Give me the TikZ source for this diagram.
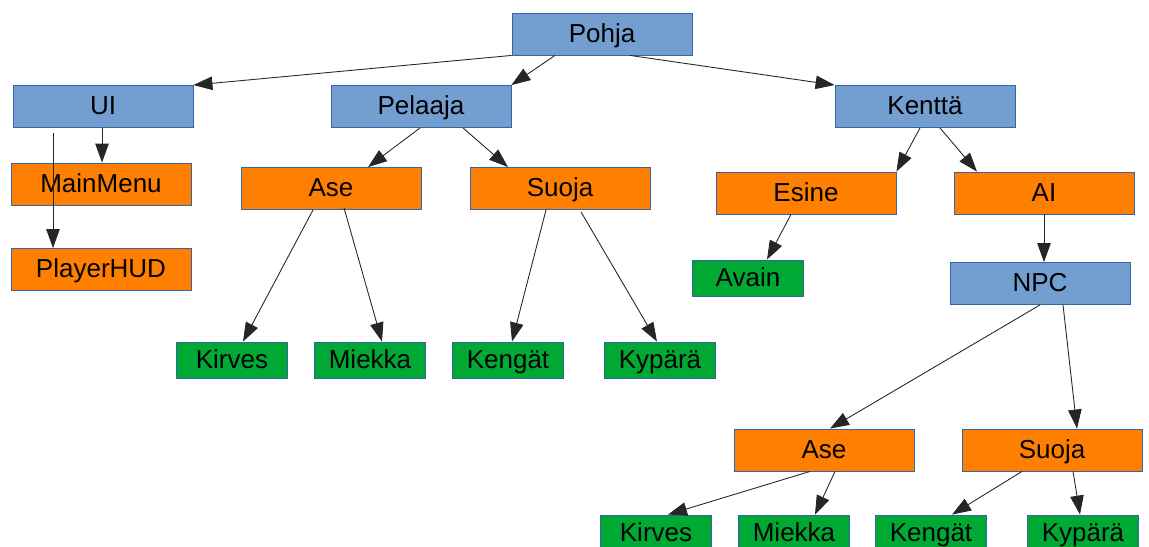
\documentclass[tikz,border=0pt]{standalone}
\usepackage{fontspec}
\setmainfont{Liberation Sans}
\usetikzlibrary{arrows.meta,calc}

\definecolor{boxblue}{HTML}{729FCF}
\definecolor{boxorange}{HTML}{FF8000}
\definecolor{boxgreen}{HTML}{00A933}
\definecolor{boxline}{HTML}{3465A4}

\begin{document}
\begin{tikzpicture}[x=0.02cm, y=-0.02cm]
			
			% ---------- Helper styles ----------
			\tikzset{
				box/.style={draw=boxline, line width=0.5pt, inner sep=0pt, minimum width=3.6cm, minimum height=0.84cm, text height=1.12em, text depth=0.2em, font=\fontsize{14.8}{17}\selectfont},
				bluebox/.style={box, fill=boxblue},
				orbox/.style={box, fill=boxorange},
				grbox/.style={box, fill=boxgreen, minimum width=2.22cm, minimum height=0.72cm},
				arr/.style={-{Triangle[length=0.38cm, width=0.27cm]}, line width=0.5pt, draw=black!85}
			}
			
			\useasboundingbox (0,0) rectangle (1149,547);
			\clip (0,0) rectangle (1149,547);
			
			% ---------- Top levels (blue) ----------
			\node[bluebox] (pohja) at (602,34) {Pohja};
			\node[bluebox] (ui) at (103,106.5) {UI};
			\node[bluebox] (pelaaja) at (421,106.5) {Pelaaja};
			\node[bluebox] (kentta) at (925,106.5) {Kenttä};
			\node[bluebox] (npc) at (1040,283.5) {NPC};
			
			% ---------- Middle levels (orange) ----------
			\node[orbox] (mainmenu) at (101,184) {MainMenu};
			\node[orbox] (playerhud) at (101,269.5) {PlayerHUD};
			\node[orbox] (ase) at (331,188.5) {Ase};
			\node[orbox] (suoja) at (560,188.5) {Suoja};
			\node[orbox] (esine) at (806,193) {Esine};
			\node[orbox] (ai) at (1044,193) {AI};
			\node[orbox] (ase2) at (824,450) {Ase};
			\node[orbox] (suoja2) at (1052,450) {Suoja};
			
			% ---------- Leaves (green) ----------
			\node[grbox] (avain) at (748,278) {Avain};
			\foreach \n/\x/\y/\t in {
				kirves/232/360/Kirves, miekka/370/360/Miekka,
				kengat/508/360/Kengät, kypara/660/360/Kypärä,
				kirves2/656/533/Kirves, miekka2/794/533/Miekka,
				kengat2/931/533/Kengät, kypara2/1083/533/Kypärä
			}{
				\node[grbox] (\n) at (\x,\y) {\t};
			}
			
			% ---------- Arrows ----------
			\draw[arr] (pohja.south west) -- (ui.north east);
			\draw[arr] ($(pohja.south)+(-47,0)$) -- (pelaaja.north east);
			\draw[arr] ($(pohja.south)+(28,0)$) -- (kentta.north west);
			
			\draw[arr] ($(ui.south)+(-1,0)$) coordinate (m) -- (m |- mainmenu.north);
			\draw[arr] ($(ui.south)+(-50,5)$) coordinate (h) -- (h |- playerhud.north);
			
			\draw[arr] ($(pelaaja.south)+(-1,0)$) -- ($(ase.north)+(37,0)$);
			\draw[arr] ($(pelaaja.south)+(42,0)$) -- ($(suoja.north)+(-52,0)$);
			\draw[arr] ($(ase.south)+(-18,0)$) -- ($(kirves.north)+(11,0)$);
			\draw[arr] ($(ase.south)+(13,-2)$) -- ($(miekka.north)+(12,0)$);
			\draw[arr] ($(suoja.south)+(-14,0)$) -- ($(kengat.north)+(4,0)$);
			\draw[arr] ($(suoja.south)+(21,2)$) -- ($(kypara.north)+(-3,0)$);
			
			\draw[arr] ($(kentta.south)+(-5,0)$) -- (esine.north east);
			\draw[arr] ($(kentta.south)+(15,0)$) -- ($(ai.north)+(-67,0)$);
			\draw[arr] ($(esine.south)+(-15,0)$) -- ($(avain.north)+(19,0)$);
			\draw[arr] (ai.south) -- (ai.south |- npc.north);
			
			\draw[arr] (npc.south) -- ($(ase2.north)+(6,0)$);
			\draw[arr] ($(npc.south)+(23,0)$) -- ($(suoja2.north)+(25,0)$);
			\draw[arr] ($(ase2.south)+(-14,0)$) -- ($(kirves2.north)+(12,0)$);
			\draw[arr] ($(ase2.south)+(11,0)$) -- ($(miekka2.north)+(21,0)$);
			\draw[arr] ($(suoja2.south)+(-30,0)$) -- ($(kengat2.north)+(21,0)$);
			\draw[arr] ($(suoja2.south)+(21,0)$) -- ($(kypara2.north)+(-3,0)$);
			
		\end{tikzpicture}
\end{document}
